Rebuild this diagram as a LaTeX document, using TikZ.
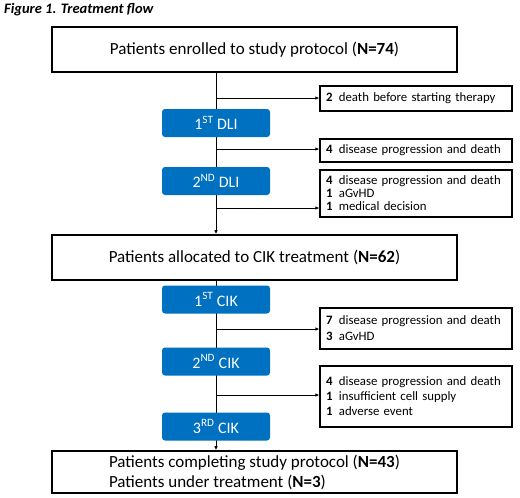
\documentclass[tikz,border=0pt]{standalone}
\usepackage{fontspec}
\setmainfont{Carlito}
\usetikzlibrary{positioning}
\usetikzlibrary{arrows.meta}
\definecolor{stepblue}{RGB}{0,112,192}

\begin{document}
\begin{tikzpicture}[x=1pt, y=-1pt,
  mainbox/.style={draw, line width=1.6pt, minimum width=405pt, minimum height=45pt, font=\fontsize{17}{20}\selectfont},
  stepbox/.style={fill=stepblue, rounded corners=3pt, minimum width=108pt, minimum height=28pt, text=white, font=\fontsize{16}{18}\selectfont},
  sidebox/.style={draw, line width=1.3pt, minimum width=192pt, text width=180pt, align=left, inner xsep=6pt, font=\fontsize{12.8}{13}\selectfont},
  conn/.style={line width=0.8pt},
  tip/.style={-{Latex[length=4pt,width=3.5pt]}}]
\useasboundingbox (0,0) rectangle (520,498);
\def\flowx{216}
\def\sidex{416}

% title
\node[anchor=west, inner sep=0pt, font=\fontsize{14.5}{16}\selectfont\bfseries\itshape] (title) at (4,10) {Figure 1. Treatment flow};

% main boxes
\node[mainbox] (enrol) at (254.5,49.5) {Patients enrolled to study protocol (\textbf{N=74})};
\node[mainbox] (alloc) at (254.5,257.5) {Patients allocated to CIK treatment (\textbf{N=62})};
\node[mainbox, minimum height=42pt, align=left, font=\fontsize{17}{20}\selectfont] (done) at (254.5,472)
  {Patients completing study protocol (\textbf{N=43})\\Patients under treatment (\textbf{N=3})};

% spine
\draw[conn, tip] (enrol.south -| \flowx,0) -- (alloc.north -| \flowx,0);
\draw[conn, tip] (alloc.south -| \flowx,0) -- (done.north -| \flowx,0);

% treatment steps
\node[stepbox] (dli1) at (\flowx,123) {1\textsuperscript{ST} DLI};
\node[stepbox] (dli2) at (\flowx,181) {2\textsuperscript{ND} DLI};
\node[stepbox] (cik1) at (\flowx,299.5) {1\textsuperscript{ST} CIK};
\node[stepbox] (cik2) at (\flowx,361.5) {2\textsuperscript{ND} CIK};
\node[stepbox] (cik3) at (\flowx,426.5) {3\textsuperscript{RD} CIK};

% drop-outs
\node[sidebox, minimum height=25pt] (out1) at (\sidex,98.5) {\textbf{2}\enspace death before starting therapy};
\node[sidebox, minimum height=23pt] (out2) at (\sidex,150.5) {\textbf{4}\enspace disease progression and death};
\node[sidebox, minimum height=47pt] (out3) at (\sidex,193.5) {\textbf{4}\enspace disease progression and death\\\textbf{1}\enspace aGvHD\\\textbf{1}\enspace medical decision};
\node[sidebox, minimum height=41pt] (out4) at (\sidex,328.5) {\textbf{7}\enspace disease progression and death\\[3pt]\textbf{3}\enspace aGvHD};
\node[sidebox, minimum height=61pt] (out5) at (\sidex,396.5) {\textbf{4}\enspace disease progression and death\\[2pt]\textbf{1}\enspace insufficient cell supply\\[2pt]\textbf{1}\enspace adverse event};

\coordinate (br1) at (\flowx,98);
\coordinate (br2) at (\flowx,149);
\coordinate (br3) at (\flowx,208);
\coordinate (br4) at (\flowx,329);
\coordinate (br5) at (\flowx,395);
\foreach \i in {1,...,5}
  \draw[conn, tip] (br\i) -- (out\i.west |- br\i);
\end{tikzpicture}
\end{document}
